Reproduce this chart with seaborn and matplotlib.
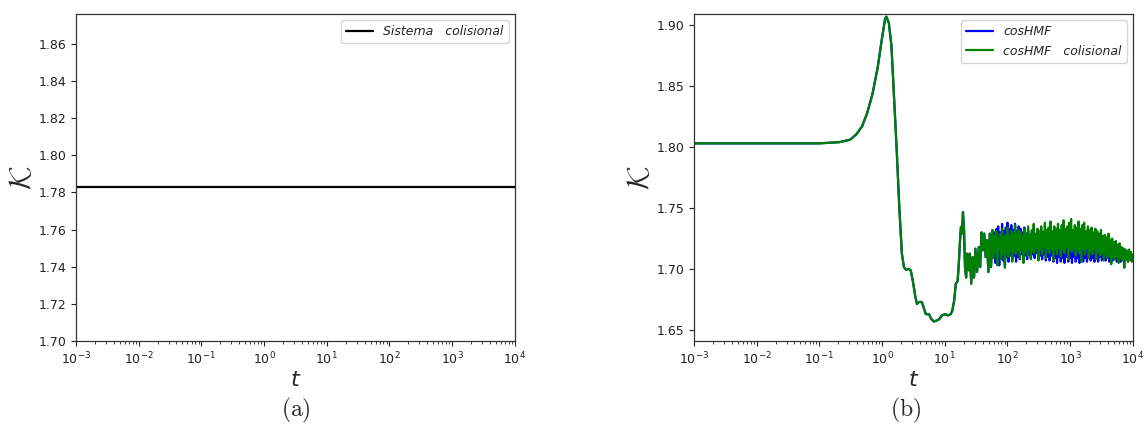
import numpy as np
import pandas as pd
import matplotlib
matplotlib.use("Agg")
import matplotlib.pyplot as plt
import seaborn as sns

# ---------------- data ----------------
# (a) collisional system: kurtosis stays constant
t_sys = [1e-3, 1e4]
k_sys = [1.783, 1.783]

# (b) cosHMF runs: common early evolution (violent relaxation)
t_early = [0.001, 0.01, 0.1, 0.21, 0.31, 0.39, 0.48, 0.58, 0.70, 0.85, 0.99,
           1.12, 1.17, 1.28, 1.41, 1.56, 1.71, 1.88, 2.07, 2.23, 2.41, 2.66,
           2.87, 3.1, 3.4, 3.6, 3.9, 4.3, 4.7, 5.0, 5.6, 6.1, 6.7, 7.4, 8.2,
           9.0, 10.2, 11.3, 12.4, 13.2, 14.1, 15.0, 16.0, 16.6, 17.4, 18.1,
           18.8, 19.5, 20.3, 21.0, 21.9, 22.7, 23.9, 25.1, 26.4, 27.8, 29.3,
           30.8, 32.7, 34.9, 36.6, 38.5, 40.5, 42.6, 44.8, 47.1, 49.5, 52.1,
           54.7, 57.6]
k_early = [1.803, 1.803, 1.803, 1.804, 1.806, 1.8105, 1.817, 1.828, 1.843,
           1.865, 1.888, 1.9055, 1.9068, 1.902, 1.883, 1.839, 1.798, 1.751,
           1.7126, 1.7016, 1.6994, 1.7002, 1.6988, 1.690, 1.677, 1.6714,
           1.673, 1.673, 1.667, 1.663, 1.663, 1.659, 1.657, 1.6577, 1.659,
           1.662, 1.663, 1.662, 1.663, 1.666, 1.674, 1.688, 1.690, 1.701,
           1.721, 1.7345, 1.729, 1.7466, 1.732, 1.7016, 1.693, 1.7126, 1.699,
           1.7126, 1.688, 1.7098, 1.693, 1.7167, 1.6975, 1.718, 1.7016, 1.730,
           1.7153, 1.729, 1.7098, 1.7236, 1.6975, 1.729, 1.7016, 1.732]

# late-time fluctuating regime (sample times)
t_late = [60, 62, 64, 67, 69, 71, 74, 76, 79, 82,
          85, 87, 91, 94, 97, 100, 104, 107, 111, 115,
          119, 123, 128, 132, 137, 141, 146, 151, 157, 162,
          168, 174, 180, 186, 192, 199, 206, 213, 221, 228,
          236, 245, 253, 262, 271, 281, 290, 301, 311, 322,
          333, 345, 357, 369, 382, 395, 409, 423, 438, 454,
          469, 486, 503, 520, 538, 557, 577, 597, 617, 639,
          661, 684, 708, 733, 759, 785, 812, 841, 870, 900,
          932, 964, 998, 1033, 1069, 1106, 1145, 1185, 1226, 1269,
          1313, 1359, 1406, 1455, 1506, 1559, 1613, 1669, 1727, 1788,
          1850, 1915, 1981, 2050, 2122, 2196, 2273, 2352, 2434, 2519,
          2607, 2698, 2792, 2889, 2990, 3094, 3202, 3314, 3430, 3549,
          3673, 3801, 3934, 4071, 4213, 4360, 4512, 4669, 4832, 5001,
          5175, 5356, 5543, 5736, 5936, 6143, 6358, 6579, 6809, 7047,
          7292, 7547, 7810, 8083, 8364, 8656, 8958, 9271, 9594, 10000]

# collisional run
k_late_col = [1.709, 1.727, 1.713, 1.731, 1.703, 1.725, 1.716, 1.729, 1.708, 1.733,
              1.712, 1.726, 1.701, 1.728, 1.714, 1.734, 1.710, 1.727, 1.715, 1.731,
              1.706, 1.729, 1.714, 1.736, 1.712, 1.728, 1.716, 1.732, 1.709, 1.730,
              1.715, 1.727, 1.705, 1.733, 1.714, 1.729, 1.711, 1.735, 1.716, 1.728,
              1.708, 1.732, 1.715, 1.737, 1.713, 1.729, 1.717, 1.733, 1.707, 1.731,
              1.716, 1.735, 1.712, 1.730, 1.718, 1.738, 1.709, 1.732, 1.716, 1.734,
              1.713, 1.739, 1.717, 1.731, 1.707, 1.735, 1.716, 1.733, 1.712, 1.737,
              1.717, 1.732, 1.710, 1.736, 1.716, 1.740, 1.713, 1.733, 1.718, 1.735,
              1.708, 1.738, 1.716, 1.741, 1.714, 1.732, 1.717, 1.736, 1.711, 1.734,
              1.716, 1.739, 1.713, 1.733, 1.706, 1.736, 1.716, 1.738, 1.712, 1.731,
              1.717, 1.735, 1.709, 1.732, 1.715, 1.734, 1.712, 1.730, 1.716, 1.733,
              1.708, 1.731, 1.714, 1.729, 1.711, 1.732, 1.713, 1.727, 1.707, 1.728,
              1.712, 1.726, 1.709, 1.729, 1.711, 1.724, 1.704, 1.725, 1.710, 1.722,
              1.708, 1.723, 1.710, 1.720, 1.705, 1.721, 1.709, 1.718, 1.707, 1.717,
              1.701, 1.716, 1.708, 1.715, 1.706, 1.716, 1.708, 1.714, 1.706, 1.712]

# collisionless run
k_late_hmf = [1.712, 1.730, 1.705, 1.733, 1.711, 1.735, 1.703, 1.730, 1.712, 1.737,
              1.707, 1.731, 1.703, 1.734, 1.710, 1.738, 1.706, 1.733, 1.711, 1.736,
              1.708, 1.732, 1.711, 1.737, 1.706, 1.731, 1.710, 1.735, 1.708, 1.733,
              1.712, 1.730, 1.707, 1.734, 1.711, 1.729, 1.708, 1.732, 1.712, 1.728,
              1.709, 1.731, 1.712, 1.733, 1.709, 1.728, 1.713, 1.731, 1.708, 1.729,
              1.711, 1.732, 1.708, 1.727, 1.712, 1.730, 1.707, 1.728, 1.710, 1.731,
              1.707, 1.729, 1.711, 1.726, 1.706, 1.730, 1.709, 1.727, 1.705, 1.731,
              1.710, 1.726, 1.706, 1.729, 1.709, 1.727, 1.705, 1.730, 1.710, 1.726,
              1.706, 1.728, 1.709, 1.725, 1.705, 1.729, 1.710, 1.727, 1.706, 1.730,
              1.709, 1.726, 1.705, 1.728, 1.710, 1.725, 1.706, 1.729, 1.709, 1.726,
              1.706, 1.727, 1.710, 1.725, 1.707, 1.728, 1.709, 1.724, 1.706, 1.727,
              1.709, 1.725, 1.706, 1.726, 1.710, 1.723, 1.707, 1.725, 1.709, 1.722,
              1.707, 1.723, 1.709, 1.721, 1.706, 1.722, 1.708, 1.720, 1.707, 1.719,
              1.709, 1.718, 1.706, 1.719, 1.708, 1.717, 1.706, 1.716, 1.708, 1.715,
              1.706, 1.715, 1.708, 1.714, 1.706, 1.714, 1.708, 1.713, 1.707, 1.711]

labels = ["cosHMF", "cosHMF   colisional"]
colors = ["blue", "green"]

# ---------------- figure ----------------
sns.set_style("ticks")
plt.rcParams["font.family"] = ["DejaVu Sans"]
plt.rcParams["axes.edgecolor"] = "#333333"
plt.rcParams["xtick.color"] = "#222222"
plt.rcParams["ytick.color"] = "#222222"

fig = plt.figure(figsize=(11.44, 4.25), dpi=100)
ax1 = fig.add_axes([0.0664, 0.1976, 0.3837, 0.7694])
ax2 = fig.add_axes([0.6066, 0.1976, 0.3837, 0.7694])

# (a)
df_a = pd.DataFrame({"t": t_sys, "K": k_sys})
sns.lineplot(data=df_a, x="t", y="K", ax=ax1, color="black", linewidth=1.6,
             estimator=None, label="Sistema   colisional")

# (b)
t_all = t_early + t_late
df_b = pd.DataFrame({
    "t": t_all + t_all,
    "K": k_early + k_late_hmf + k_early + k_late_col,
    "serie": [labels[0]] * len(t_all) + [labels[1]] * len(t_all),
})
sns.lineplot(data=df_b, x="t", y="K", hue="serie", hue_order=labels,
             palette=dict(zip(labels, colors)), ax=ax2, linewidth=1.6,
             estimator=None, sort=False)

for ax in (ax1, ax2):
    ax.set_xscale("log")
    ax.set_xlim(1e-3, 1e4)
    ax.tick_params(axis="both", which="major", labelsize=9, length=3.5, width=0.8)
    ax.tick_params(axis="x", which="minor", length=2, width=0.6)
    for sp in ax.spines.values():
        sp.set_linewidth(0.9)
    ax.set_xlabel("$t$", fontsize=16, labelpad=2)
    ax.set_ylabel(r"$\mathcal{K}$", fontsize=22, math_fontfamily="cm", labelpad=1)

ax1.set_ylim(1.70, 1.876)
ax1.set_yticks(np.arange(1.70, 1.861, 0.02))
ax1.set_yticklabels([f"{v:.2f}" for v in np.arange(1.70, 1.861, 0.02)])

ax2.set_ylim(1.641, 1.909)
ax2.set_yticks(np.arange(1.65, 1.901, 0.05))
ax2.set_yticklabels([f"{v:.2f}" for v in np.arange(1.65, 1.901, 0.05)])

leg_kw = dict(loc="upper right", prop={"style": "italic", "size": 9},
              frameon=True, framealpha=0.8, edgecolor="0.8", fancybox=True,
              handlelength=2.2, borderpad=0.4)
h1, _ = ax1.get_legend_handles_labels()
ax1.legend(h1, ["Sistema   colisional"], **leg_kw)
h2, _ = ax2.get_legend_handles_labels()
ax2.legend(h2, labels, **leg_kw)

fig.text(0.2583, 0.0, r"$\mathrm{(a)}$", math_fontfamily="cm", fontsize=17,
         ha="center", va="bottom")
fig.text(0.7915, 0.0, r"$\mathrm{(b)}$", math_fontfamily="cm", fontsize=17,
         ha="center", va="bottom")

fig.savefig("out.png", dpi=100, facecolor="white")
